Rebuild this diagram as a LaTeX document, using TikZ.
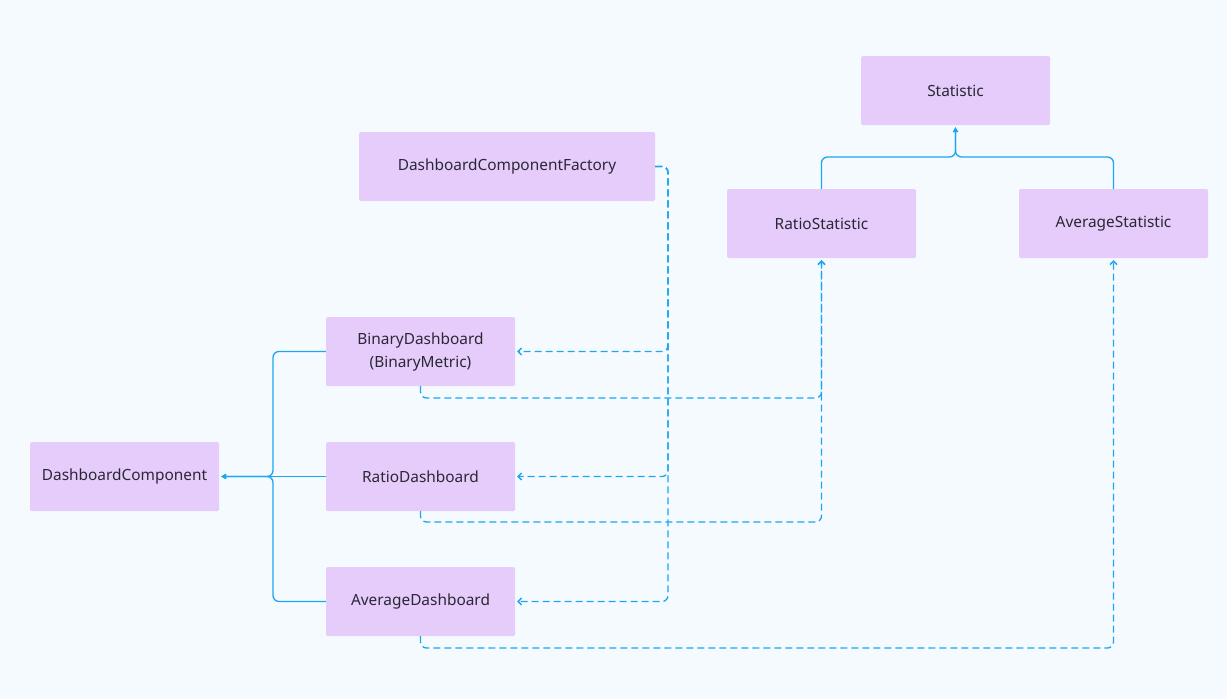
\documentclass[tikz,border=0pt]{standalone}
\usepackage{fontspec}
\setmainfont{Noto Sans}
\usetikzlibrary{arrows.meta}
\definecolor{bg}{HTML}{F5FAFF}
\definecolor{boxfill}{HTML}{E5CCFB}
\definecolor{edge}{HTML}{1AA6F0}
\definecolor{txt}{HTML}{2B2735}
\tikzset{
  cls/.style={fill=boxfill, draw=none, rounded corners=1.5pt, minimum width=189pt, minimum height=69pt, inner sep=0pt, align=center, text=txt, font=\fontsize{15.4}{23}\selectfont},
  inh/.style={draw=edge, line width=1.3pt, rounded corners=6pt, -{Triangle[length=5pt,width=5pt]}, shorten >=2pt},
  dep/.style={draw=edge, line width=1.3pt, rounded corners=6pt, dash pattern=on 7pt off 4pt, -{Straight Barb[length=3.5pt,width=7pt]}, shorten >=2pt}
}
\begin{document}
\begin{tikzpicture}[x=1pt,y=-1pt]
\fill[bg] (0,0) rectangle (1227,699);
\useasboundingbox (0,0) rectangle (1227,699);
\node[cls] (st)  at (955.5,90.5) {Statistic};
\node[cls, minimum width=296pt] (fac) at (507,166.5) {DashboardComponentFactory};
\node[cls] (rs)  at (821.5,223.5) {RatioStatistic};
\node[cls] (as)  at (1113.5,223.5) {AverageStatistic};
\node[cls] (bd)  at (420.5,351.5) {BinaryDashboard\\(BinaryMetric)};
\node[cls] (dc)  at (124.5,476.5) {DashboardComponent};
\node[cls] (rd)  at (420.5,476.5) {RatioDashboard};
\node[cls] (ad)  at (420.5,601.5) {AverageDashboard};

% inheritance to DashboardComponent
\draw[inh] (bd.west) -- (273,351.5) -- (273,476.5) -- (dc.east);
\draw[inh] (ad.west) -- (273,601.5) -- (273,476.5) -- (dc.east);
\draw[inh] (rd.west) -- (dc.east);

% inheritance to Statistic
\draw[inh] (rs.north) -- (821.5,157) -- (955.5,157) -- (st.south);
\draw[inh] (as.north) -- (1113.5,157) -- (955.5,157) -- (st.south);

% factory dependencies
\draw[dep] (fac.east) -- (668,166.5) -- (668,351.5) -- (bd.east);
\draw[dep] (fac.east) -- (668,166.5) -- (668,476.5) -- (rd.east);
\draw[dep] (fac.east) -- (668,166.5) -- (668,601.5) -- (ad.east);

% dashboards to statistics
\draw[dep] (bd.south) -- (420.5,398) -- (821.5,398) -- (rs.south);
\draw[dep] (rd.south) -- (420.5,522) -- (821.5,522) -- (rs.south);
\draw[dep] (ad.south) -- (420.5,648) -- (1113.5,648) -- (as.south);
\end{tikzpicture}
\end{document}
